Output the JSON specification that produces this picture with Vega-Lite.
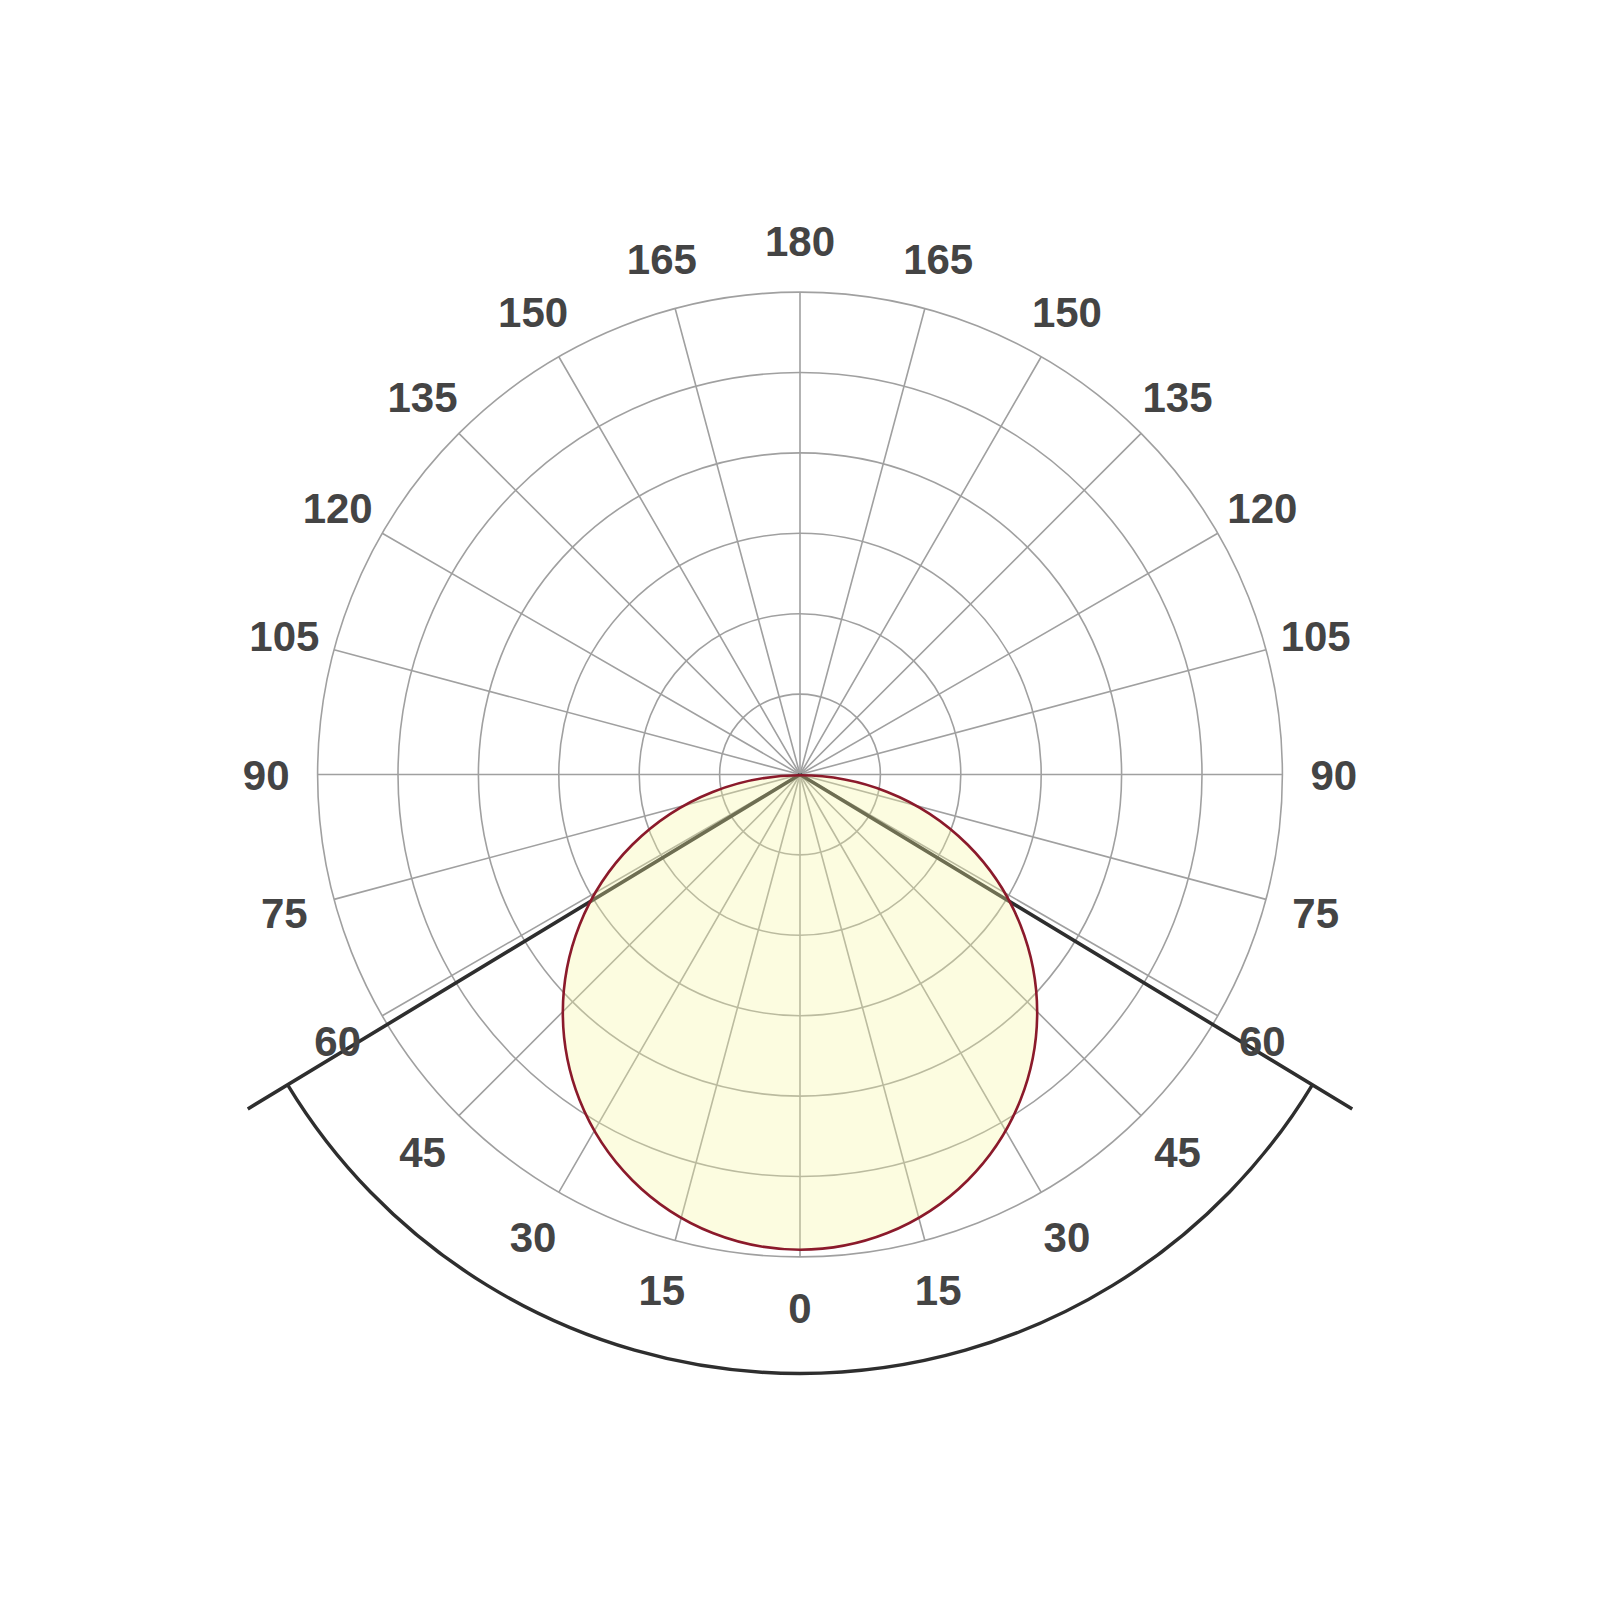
{
  "$schema": "https://vega.github.io/schema/vega-lite/v6.json",
  "width": 1600,
  "height": 1600,
  "autosize": "none",
  "padding": 0,
  "background": "white",
  "config": {"view": {"stroke": null}},
  "datasets": {
    "rings": [{"r": 1}, {"r": 2}, {"r": 3}, {"r": 4}, {"r": 5}, {"r": 6}],
    "angles": [
      {"a": 0, "label": "180"}, {"a": 15, "label": "165"}, {"a": 30, "label": "150"}, {"a": 45, "label": "135"},
      {"a": 60, "label": "120"}, {"a": 75, "label": "105"}, {"a": 90, "label": "90"}, {"a": 105, "label": "75"},
      {"a": 120, "label": "60"}, {"a": 135, "label": "45"}, {"a": 150, "label": "30"}, {"a": 165, "label": "15"},
      {"a": 180, "label": "0"}, {"a": 195, "label": "15"}, {"a": 210, "label": "30"}, {"a": 225, "label": "45"},
      {"a": 240, "label": "60"}, {"a": 255, "label": "75"}, {"a": 270, "label": "90"}, {"a": 285, "label": "105"},
      {"a": 300, "label": "120"}, {"a": 315, "label": "135"}, {"a": 330, "label": "150"}, {"a": 345, "label": "165"}
    ],
    "beam": [{"a": 121.2, "len": 8.03}, {"a": 238.8, "len": 8.03}],
    "beamArc": [{"a1": 121.2, "a2": 238.8, "r": 7.45}],
    "light": [{"series": "Luminous intensity", "cx": 0, "cy": -2.96, "r": 2.95}]
  },
  "layer": [
    {
      "data": {"name": "rings"},
      "mark": {"type": "arc", "theta": 0, "theta2": 6.2832, "fill": null, "stroke": "#a0a0a0", "strokeWidth": 1.6},
      "encoding": {
        "x": {"datum": 0, "type": "quantitative", "scale": {"domain": [-9.95, 9.95], "nice": false, "zero": false}, "axis": null},
        "y": {"datum": 0, "type": "quantitative", "scale": {"domain": [-10.267, 9.633], "nice": false, "zero": false}, "axis": null},
        "radius": {"field": "r", "type": "quantitative", "stack": null, "scale": {"type": "linear", "domain": [0, 10], "range": [0, 804], "zero": true, "nice": false}}
      }
    },
    {
      "data": {"name": "angles"},
      "mark": {"type": "arc", "fill": null, "stroke": "#a0a0a0", "strokeWidth": 1.6},
      "encoding": {
        "x": {"datum": 0, "type": "quantitative", "axis": null},
        "y": {"datum": 0, "type": "quantitative", "axis": null},
        "theta": {"field": "a", "type": "quantitative", "stack": null, "scale": {"domain": [0, 360], "range": [0, 6.283185307]}},
        "theta2": {"field": "a"},
        "radius": {"datum": 6, "type": "quantitative", "stack": null},
        "radius2": {"datum": 0}
      }
    },
    {
      "data": {"name": "beam"},
      "mark": {"type": "arc", "fill": null, "stroke": "#2e2e2e", "strokeWidth": 3.6},
      "encoding": {
        "x": {"datum": 0, "type": "quantitative", "axis": null},
        "y": {"datum": 0, "type": "quantitative", "axis": null},
        "theta": {"field": "a", "type": "quantitative", "stack": null},
        "theta2": {"field": "a"},
        "radius": {"field": "len", "type": "quantitative", "stack": null},
        "radius2": {"datum": 0}
      }
    },
    {
      "data": {"name": "beamArc"},
      "mark": {"type": "arc", "fill": null, "stroke": "#2e2e2e", "strokeWidth": 3.4},
      "encoding": {
        "x": {"datum": 0, "type": "quantitative", "axis": null},
        "y": {"datum": 0, "type": "quantitative", "axis": null},
        "theta": {"field": "a1", "type": "quantitative", "stack": null},
        "theta2": {"field": "a2"},
        "radius": {"field": "r", "type": "quantitative", "stack": null},
        "radius2": {"field": "r"}
      }
    },
    {
      "data": {"name": "light"},
      "mark": {"type": "arc", "theta": 0, "theta2": 6.2832, "fill": "#f6f6a0", "fillOpacity": 0.32, "stroke": "#8b1a2b", "strokeWidth": 2.6},
      "encoding": {
        "x": {"field": "cx", "type": "quantitative", "axis": null},
        "y": {"field": "cy", "type": "quantitative", "axis": null},
        "radius": {"field": "r", "type": "quantitative", "stack": null}
      }
    },
    {
      "data": {"name": "angles"},
      "mark": {"type": "text", "font": "Liberation Sans", "fontWeight": "bold", "fontSize": 42, "fill": "#444444", "align": "center", "baseline": "middle", "dy": 2},
      "encoding": {
        "x": {"datum": 0, "type": "quantitative", "axis": null},
        "y": {"datum": 0, "type": "quantitative", "axis": null},
        "theta": {"field": "a", "type": "quantitative", "stack": null},
        "radius": {"datum": 6.64, "type": "quantitative", "stack": null},
        "text": {"field": "label", "type": "nominal"}
      }
    }
  ]
}
